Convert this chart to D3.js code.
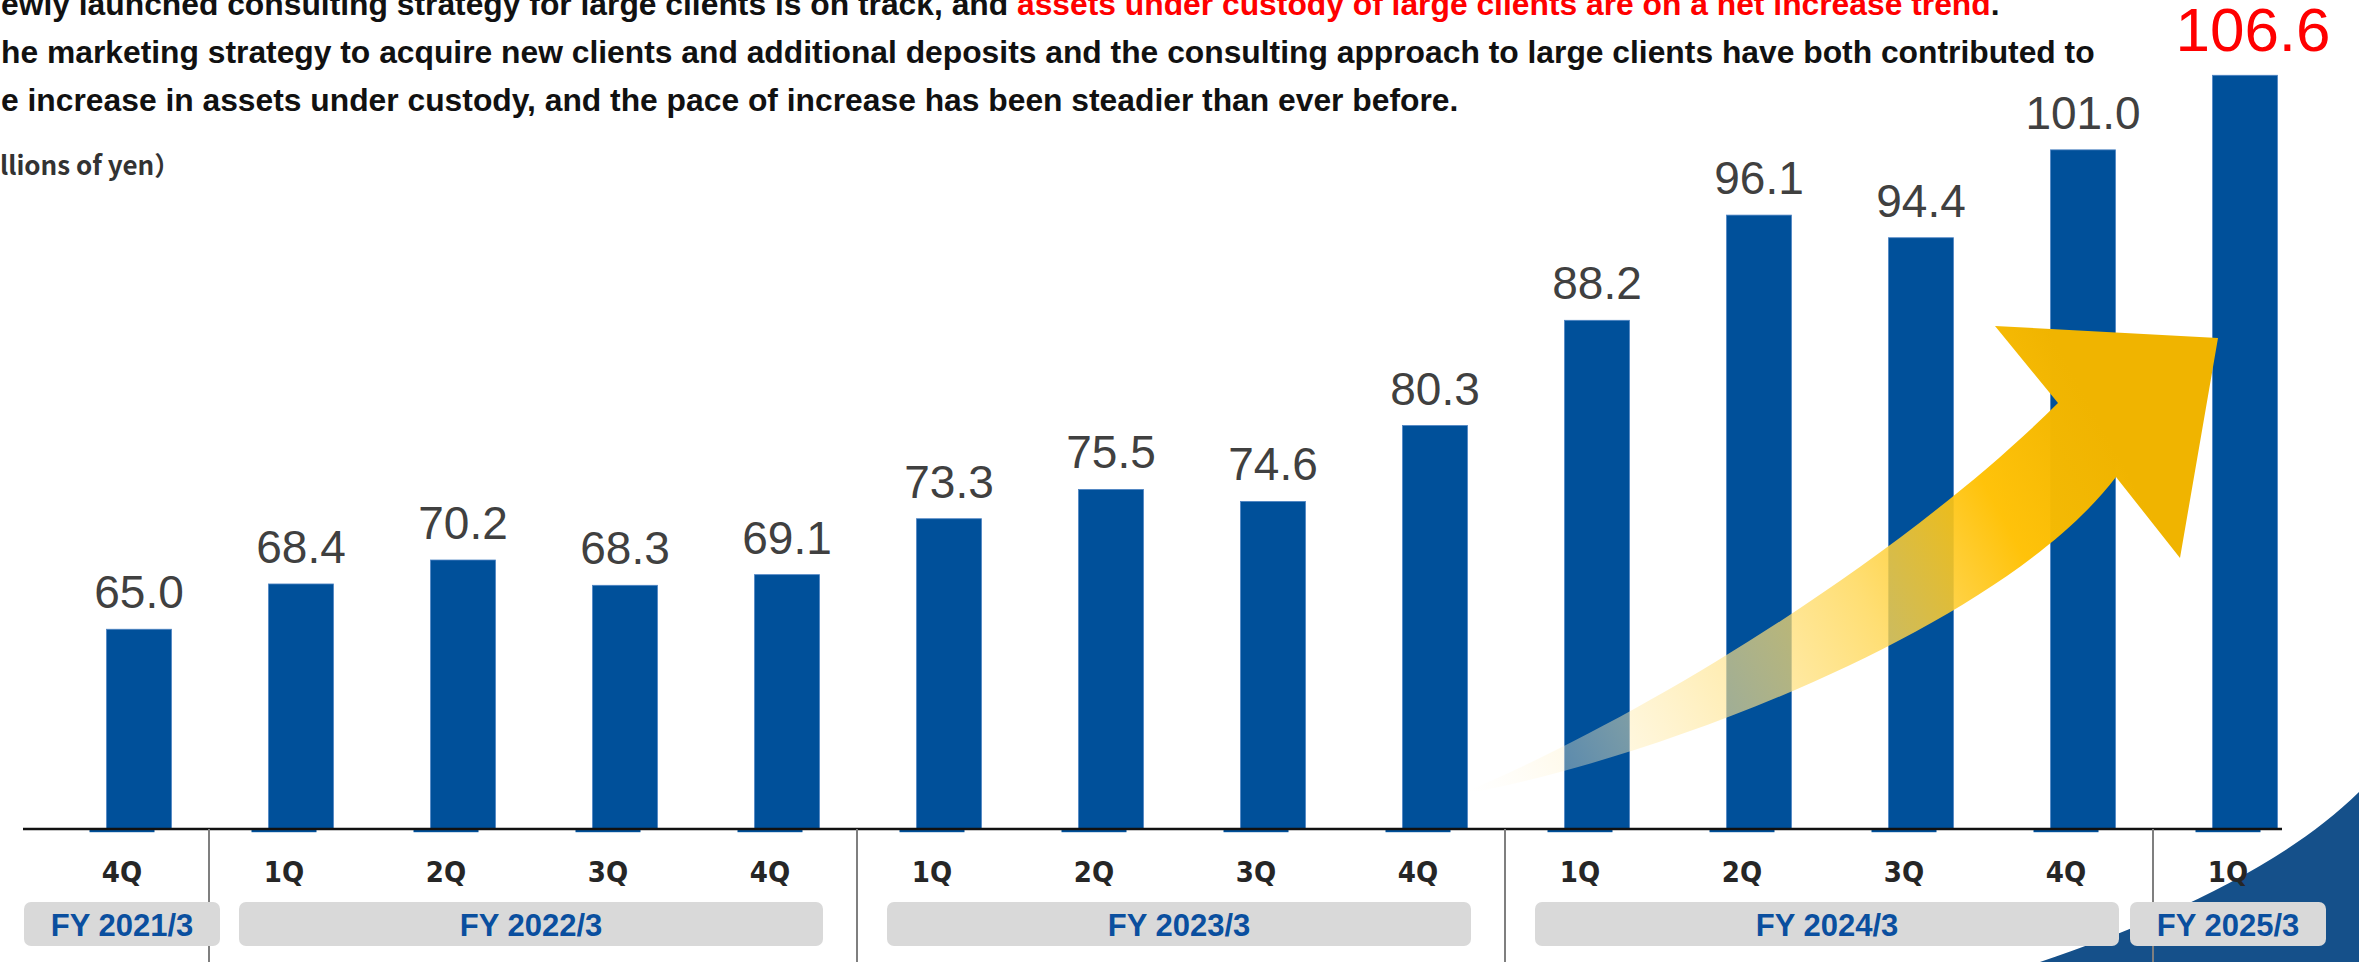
<!DOCTYPE html>
<html>
<head>
<meta charset="utf-8">
<script src="https://cdn.jsdelivr.net/npm/d3@7"></script>
<style>
  body { margin: 0; background: #ffffff; }
  svg { display: block; }
</style>
</head>
<body>
<svg id="chart" width="2359" height="962"></svg>
<script>
// Quarter labels, fiscal year of each quarter and assets under custody (billions of yen)
const quarters = ["4Q", "1Q", "2Q", "3Q", "4Q", "1Q", "2Q", "3Q", "4Q", "1Q", "2Q", "3Q", "4Q", "1Q"];
const fiscalYears = [
  "FY 2021/3",
  "FY 2022/3", "FY 2022/3", "FY 2022/3", "FY 2022/3",
  "FY 2023/3", "FY 2023/3", "FY 2023/3", "FY 2023/3",
  "FY 2024/3", "FY 2024/3", "FY 2024/3", "FY 2024/3",
  "FY 2025/3"
];
const assets = [65.0, 68.4, 70.2, 68.3, 69.1, 73.3, 75.5, 74.6, 80.3, 88.2, 96.1, 94.4, 101.0, 106.6];

// Headline text (each line split into plain / highlighted runs)
const headlineLines = [
  [["ewly launched consulting strategy for large clients is on track, and ", false],
   ["assets under custody of large clients are on a net increase trend", true],
   [".", false]],
  [["he marketing strategy to acquire new clients and additional deposits and the consulting approach to large clients have both contributed to", false]],
  [["e increase in assets under custody, and the pace of increase has been steadier than ever before.", false]]
];
const unitLabel = "llions of yen）";

// ---- layout ----
const W = 2359, H = 962;
const baseY = 829;
const axisStart = 23, axisEnd = 2282;
const BLUE = "#00509a";

const svg = d3.select("#chart");
const defs = svg.append("defs");

const idx = d3.range(assets.length);
const x = d3.scaleBand().domain(idx).range([41, 2309]).padding(0);
const y = d3.scaleLinear().domain([50, 110]).range([baseY, 30]);
const cx = i => x(i) + x.bandwidth() / 2;
const barW = 65, barShift = 17;
const last = assets.length - 1;

// dark blue corner decoration
svg.append("path")
  .attr("d", `M2040,${H} C2150,925 2280,870 ${W},792 L${W},${H} Z`)
  .attr("fill", "#15508a");

// bars
svg.append("g").selectAll("rect")
  .data(idx)
  .join("rect")
  .attr("x", i => cx(i) + barShift - barW / 2)
  .attr("y", i => y(assets[i]))
  .attr("width", barW)
  .attr("height", i => baseY - y(assets[i]))
  .attr("fill", BLUE)
  .attr("stroke", "#4f84c4")
  .attr("stroke-width", 0.8);

// short blue marks under the baseline at each category
svg.append("g").selectAll("rect")
  .data(idx)
  .join("rect")
  .attr("x", i => cx(i) - barW / 2)
  .attr("y", baseY + 1)
  .attr("width", barW)
  .attr("height", 2.2)
  .attr("fill", BLUE);

// category axis
const axis = d3.axisBottom(x).tickSize(0).tickFormat(i => quarters[i]);
const gAxis = svg.append("g").attr("transform", `translate(0,${baseY})`).call(axis);
gAxis.select(".domain").remove();
gAxis.selectAll("text")
  .attr("y", 53)
  .attr("dy", 0)
  .attr("fill", "#262626")
  .style("font-family", "'DejaVu Sans Condensed', 'DejaVu Sans', sans-serif")
  .style("font-stretch", "condensed")
  .style("font-weight", "bold")
  .style("font-size", "29px");

svg.append("line")
  .attr("x1", axisStart).attr("x2", axisEnd)
  .attr("y1", baseY).attr("y2", baseY)
  .attr("stroke", "#111111").attr("stroke-width", 2.6);

// fiscal-year groups
const groups = d3.groups(idx, i => fiscalYears[i]).map(([fy, ids]) => ({
  fy,
  start: x(ids[0]),
  end: x(ids[ids.length - 1]) + x.bandwidth()
}));

// separators between fiscal years
svg.append("g").selectAll("line")
  .data(groups.slice(1))
  .join("line")
  .attr("x1", g => g.start + 6).attr("x2", g => g.start + 6)
  .attr("y1", baseY).attr("y2", H)
  .attr("stroke", "#7f7f7f").attr("stroke-width", 2);

// rising arrow
const grad = defs.append("linearGradient")
  .attr("id", "arrowGrad")
  .attr("gradientUnits", "userSpaceOnUse")
  .attr("x1", 1470).attr("y1", 792)
  .attr("x2", 2110).attr("y2", 440);
[
  [0.00, "#fff6e0", 0.0],
  [0.12, "#fff3d0", 0.35],
  [0.35, "#ffe696", 0.62],
  [0.60, "#ffd650", 0.80],
  [0.82, "#ffc000", 0.96],
  [1.00, "#f0b400", 1.0]
].forEach(([o, c, a]) => grad.append("stop")
  .attr("offset", o).attr("stop-color", c).attr("stop-opacity", a));

svg.append("path")
  .attr("d",
    "M1458,795 C1640,720 1900,560 2058,403 " +
    "L1995,326 L2218,338 L2180,558 L2116,477 " +
    "C2000,630 1650,762 1458,795 Z")
  .attr("fill", "url(#arrowGrad)");

// value labels
svg.append("g").selectAll("text")
  .data(idx)
  .join("text")
  .attr("x", i => cx(i) + barShift + (i === last ? 8 : 0))
  .attr("y", i => y(assets[i]) - (i === last ? 24 : 21))
  .attr("text-anchor", "middle")
  .attr("fill", i => i === last ? "#ff0000" : "#404040")
  .style("font-family", "'Liberation Sans', Arial, sans-serif")
  .style("font-size", i => i === last ? "62px" : "46px")
  .text(i => assets[i].toFixed(1));

// fiscal-year boxes
const boxTop = 902, boxH = 44, insetL = 36, insetR = 28, minBox = 196;
const gBox = svg.append("g").selectAll("g").data(groups).join("g");
gBox.each(function (g) {
  let l = g.start + insetL, r = g.end - insetR;
  if (r - l < minBox) {
    const m = (g.start + g.end) / 2;
    l = m - minBox / 2; r = m + minBox / 2;
  }
  g.l = l; g.r = r;
});
gBox.append("rect")
  .attr("x", g => g.l).attr("y", boxTop)
  .attr("width", g => g.r - g.l).attr("height", boxH)
  .attr("rx", 7)
  .attr("fill", "#d9d9d9");
gBox.append("text")
  .attr("x", g => (g.l + g.r) / 2)
  .attr("y", boxTop + boxH / 2 + 11.5)
  .attr("text-anchor", "middle")
  .attr("fill", "#0a4f9f")
  .style("font-family", "'Liberation Sans', Arial, sans-serif")
  .style("font-weight", "bold")
  .style("font-size", "31px")
  .text(g => g.fy);

// headline
const head = svg.append("g")
  .style("font-family", "'Liberation Sans', Arial, sans-serif")
  .style("font-weight", "bold")
  .style("font-size", "31.8px");
headlineLines.forEach((runs, k) => {
  const t = head.append("text").attr("x", 1).attr("y", 15 + k * 48);
  runs.forEach(([s, hi]) => t.append("tspan").attr("fill", hi ? "#ff0000" : "#111111").text(s));
});

// unit
svg.append("text")
  .attr("x", 0).attr("y", 175)
  .attr("fill", "#333333")
  .style("font-family", "'Noto Sans CJK JP', sans-serif")
  .style("font-weight", "bold")
  .style("font-size", "26px")
  .text(unitLabel);
</script>
</body>
</html>
